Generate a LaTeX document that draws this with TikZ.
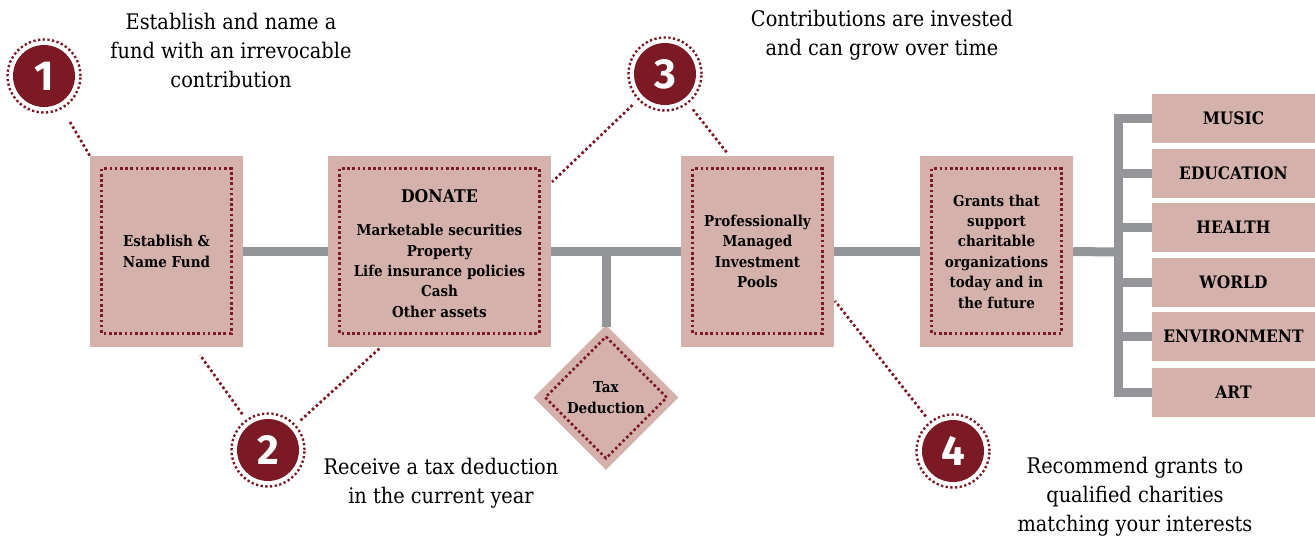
\documentclass[tikz,border=0pt]{standalone}
\usepackage{fontspec}
\setmainfont{DejaVu Serif}[FakeStretch=0.9]
\newfontfamily\numfont{Fira Sans}
\usetikzlibrary{shapes.geometric,calc}
\definecolor{boxpink}{HTML}{D4B2AB}
\definecolor{darkred}{HTML}{7B1A24}
\definecolor{linegray}{HTML}{939598}
\tikzset{
  conn/.style={draw=linegray, line width=9pt},
  dotline/.style={draw=darkred, line width=2.7pt, dash pattern=on 2.6pt off 2.6pt},
  boxtext/.style={align=center, font=\bfseries\fontsize{15}{20.4}\selectfont},
  bigbox/.style={fill=boxpink, minimum height=191pt, inner sep=0pt, boxtext},
  catbox/.style={fill=boxpink, minimum width=163pt, minimum height=49pt, inner sep=0pt,
                 font=\bfseries\fontsize{17.2}{19}\selectfont},
  numcirc/.style={circle, fill=darkred, minimum size=62pt, inner sep=0pt, text=white,
                  font=\numfont\bfseries\fontsize{42}{42}\selectfont},
  caption/.style={align=center, font=\fontsize{21.5}{29}\selectfont},
}
\begin{document}
\begin{tikzpicture}[x=1pt,y=-1pt]
\useasboundingbox (0,0) rectangle (1315,539);

% main boxes
\node[bigbox, minimum width=153pt] (b1) at (166.5,251.5) {Establish \&\\Name Fund};
\node[bigbox, minimum width=223pt] (b2) at (439.5,251.5) {};
\node[boxtext, inner sep=0pt] (b2t) at ([yshift=-2pt]b2.center)
  {{\fontsize{17.5}{20}\selectfont DONATE}\\[13pt]Marketable securities\\Property\\Life insurance policies\\Cash\\Other assets};
\node[bigbox, minimum width=153pt] (b3) at (757.5,251.5) {Professionally\\Managed\\Investment\\Pools};
\node[bigbox, minimum width=153pt] (b4) at (996.5,251.5) {Grants that\\support\\charitable\\organizations\\today and in\\the future};

% inner dotted frames
\foreach \b in {b1,b2,b3,b4}{
  \draw[dotline] ([shift={(12,13)}]\b.north west) rectangle ([shift={(-12,-14)}]\b.south east);
}

% tax deduction diamond
\node[diamond, fill=boxpink, minimum width=145pt, minimum height=145pt, inner sep=0pt,
      boxtext] (d) at (606,397.5) {Tax\\Deduction};
\draw[dotline] ([yshift=-12pt]d.north) -- ([xshift=-12pt]d.east) -- ([yshift=12pt]d.south)
   -- ([xshift=12pt]d.west) -- cycle;

% category boxes
\node[catbox] (music) at (1233.5,118.5) {MUSIC};
\node[catbox] (edu)   at (1233.5,173)   {EDUCATION};
\node[catbox] (health) at (1233.5,227.5) {HEALTH};
\node[catbox] (world) at (1233.5,282.5) {WORLD};
\node[catbox] (env)   at (1233.5,336.5) {ENVIRONMENT};
\node[catbox] (art)   at (1233.5,392)   {ART};

% connectors
\coordinate (tx) at (1118,252);
\draw[conn] (b1.east) -- (b2.west);
\draw[conn] (b2.east) -- (b3.west);
\draw[conn] (b3.east) -- (b4.west);
\draw[conn] (b4.east) -- (tx);
\coordinate (j) at (d.north |- b1.east);
\draw[conn] ([yshift=-4.5pt]j) -- ([yshift=-2pt]d.north);
\draw[conn, line join=miter] (music.west) -- (music.west -| tx) -- (art.west -| tx) -- (art.west);
\foreach \c in {edu,health,world,env}{
  \draw[conn] (\c.west) -- (\c.west -| tx);
}

% numbered circles
\node[numcirc] (c1) at (44,76) {1};
\node[numcirc] (c2) at (268,450) {2};
\node[numcirc] (c3) at (665,74) {3};
\node[numcirc] (c4) at (953,451) {4};
\foreach \c in {c1,c2,c3,c4}{
  \draw[dotline, line width=2.4pt, dash pattern=on 2.3pt off 2.4pt] (\c) circle (36.5pt);
}

% dotted leaders
\coordinate (l1a) at (70,122);
\coordinate (l2a) at (200,355);
\coordinate (l2b) at (380,348);
\coordinate (l3a) at (552,182);
\coordinate (l3b) at (728,154);
\coordinate (l4a) at (835,301);
\draw[dotline] (l1a) -- ($(l1a)!1!(b1.north west)$);
\draw[dotline] ($(c2)!44pt!(l2a)$) -- (l2a);
\draw[dotline] ($(c2)!44pt!(l2b)$) -- (l2b);
\draw[dotline] ($(c3)!45pt!(l3a)$) -- (l3a);
\draw[dotline] ($(c3)!45pt!(l3b)$) -- (l3b);
\draw[dotline] ($(c4)!44pt!(l4a)$) -- (l4a);

% captions
\node[caption] (t1) at (231,50) {Establish and name a\\fund with an irrevocable\\contribution};
\node[caption] (t2) at (441,483) {Receive a tax deduction\\in the current year};
\node[caption] (t3) at (882,35) {Contributions are invested\\and can grow over time};
\node[caption] (t4) at (1135,497) {Recommend grants to\\qualified charities\\matching your interests};
\end{tikzpicture}
\end{document}
